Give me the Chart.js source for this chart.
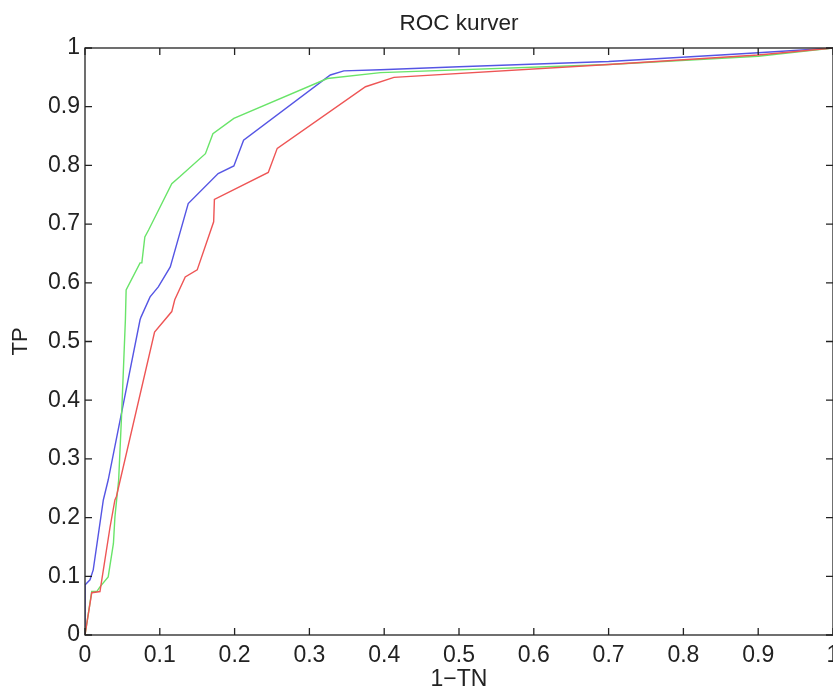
<!DOCTYPE html>
<html>
<head>
<meta charset="utf-8">
<script src="https://cdn.jsdelivr.net/npm/chart.js@4.4.1/dist/chart.umd.min.js"></script>
<style>
  html, body { margin: 0; padding: 0; background: #fff; }
  #wrap { width: 833px; height: 689px; }
</style>
</head>
<body>
<div id="wrap"><canvas id="roc"></canvas></div>
<script>
// ROC curves (x = 1-TN, y = TP)
var redX   = [0, 0.009, 0.02, 0.0335, 0.040, 0.042, 0.093, 0.116, 0.120, 0.134, 0.150, 0.172, 0.173, 0.245, 0.257, 0.375, 0.413, 0.7, 0.9, 1];
var redY   = [0, 0.072, 0.074, 0.184, 0.230, 0.236, 0.516, 0.551, 0.571, 0.610, 0.622, 0.704, 0.742, 0.788, 0.829, 0.934, 0.950, 0.972, 0.988, 1];

var greenX = [0, 0.009, 0.0157, 0.02, 0.031, 0.038, 0.040, 0.045, 0.049, 0.054, 0.055, 0.0736, 0.076, 0.080, 0.085, 0.116, 0.127, 0.161, 0.171, 0.199, 0.324, 0.395, 0.7, 0.9, 1];
var greenY = [0, 0.074, 0.074, 0.082, 0.099, 0.156, 0.201, 0.264, 0.377, 0.537, 0.588, 0.634, 0.634, 0.678, 0.690, 0.769, 0.781, 0.820, 0.854, 0.880, 0.948, 0.958, 0.972, 0.986, 1];

var blueX  = [0, 0, 0.0067, 0.011, 0.0245, 0.031, 0.0736, 0.075, 0.087, 0.098, 0.114, 0.138, 0.178, 0.199, 0.212, 0.328, 0.346, 0.395, 0.5, 0.7, 0.85, 0.9, 1];
var blueY  = [0, 0.085, 0.094, 0.111, 0.230, 0.264, 0.537, 0.542, 0.576, 0.593, 0.627, 0.735, 0.786, 0.799, 0.843, 0.954, 0.961, 0.963, 0.968, 0.977, 0.988, 0.992, 1];

var xTickLabels = ['0', '0.1', '0.2', '0.3', '0.4', '0.5', '0.6', '0.7', '0.8', '0.9', '1'];
var yTickLabels = ['0', '0.1', '0.2', '0.3', '0.4', '0.5', '0.6', '0.7', '0.8', '0.9', '1'];

function pts(xs, ys) {
  return xs.map(function (x, i) { return { x: x, y: ys[i] }; });
}

var font = 'Liberation Sans, Arial, Helvetica, sans-serif';
var ink = '#222';

function line(label, color, xs, ys) {
  return {
    label: label,
    data: pts(xs, ys),
    showLine: true,
    borderColor: color,
    borderWidth: 1.4,
    pointRadius: 0,
    tension: 0,
    fill: false
  };
}

var chart_roc = new Chart(document.getElementById('roc'), {
    type: 'scatter',
    data: {
        datasets: [
            line('red', 'rgb(238,85,85)', redX, redY),
            line('green', 'rgb(105,228,105)', greenX, greenY),
            line('blue', 'rgb(85,85,228)', blueX, blueY)
        ]
    },
    options: {
        animation: false,
        responsive: true,
        maintainAspectRatio: false,
        layout: { padding: 0 },
        plugins: {
            legend: { display: false },
            tooltip: { enabled: false },
            title: {
                display: true,
                fullSize: false,
                text: 'ROC kurver',
                color: ink,
                font: { family: font, size: 22.5, weight: 'normal', lineHeight: 1.2 },
                padding: { top: 10, bottom: 11 }
            }
        },
        scales: {
            x: {
                type: 'linear',
                min: 0,
                max: 1,
                grid: { display: false, drawTicks: false },
                border: { display: false },
                ticks: {
                    stepSize: 0.1,
                    color: ink,
                    padding: 7,
                    maxRotation: 0,
                    font: { family: font, size: 23 },
                    callback: function (v, i) { return xTickLabels[i]; }
                },
                title: {
                    display: true,
                    text: '1\u2212TN',
                    color: ink,
                    font: { family: font, size: 23, lineHeight: 0.8 },
                    padding: 0
                },
                afterFit: function (s) { s.height = 54; s.paddingLeft = 0; s.paddingRight = 0; }
            },
            y: {
                type: 'linear',
                min: 0,
                max: 1,
                grid: { display: false, drawTicks: false },
                border: { display: false },
                ticks: {
                    stepSize: 0.1,
                    color: ink,
                    padding: 5,
                    font: { family: font, size: 23 },
                    callback: function (v, i) { return yTickLabels[i]; }
                },
                title: {
                    display: true,
                    text: 'TP',
                    color: ink,
                    font: { family: font, size: 22, lineHeight: 1.2 },
                    padding: 8
                },
                afterFit: function (s) { s.width = 85; s.paddingTop = 0; s.paddingBottom = 0; }
            }
        }
    },
    plugins: [{
        id: 'matlabBox',
        beforeDraw: function (chart) {
            var ctx = chart.canvas.getContext('2d');
            ctx.save();
            ctx.globalCompositeOperation = 'destination-over';
            ctx.fillStyle = 'white';
            ctx.fillRect(0, 0, chart.canvas.width, chart.canvas.height);
            ctx.restore();
        },
        afterDraw: function (chart) {
            var ctx = chart.ctx;
            var a = chart.chartArea;
            var sx = chart.scales.x, sy = chart.scales.y;
            var len = 7;
            ctx.save();
            ctx.strokeStyle = ink;
            ctx.lineWidth = 1.3;
            ctx.strokeRect(a.left, a.top, a.right - a.left, a.bottom - a.top);
            ctx.beginPath();
            sx.ticks.forEach(function (t) {
                var px = sx.getPixelForValue(t.value);
                ctx.moveTo(px, a.bottom); ctx.lineTo(px, a.bottom - len);
                ctx.moveTo(px, a.top); ctx.lineTo(px, a.top + len);
            });
            sy.ticks.forEach(function (t) {
                var py = sy.getPixelForValue(t.value);
                ctx.moveTo(a.left, py); ctx.lineTo(a.left + len, py);
                ctx.moveTo(a.right, py); ctx.lineTo(a.right - len, py);
            });
            ctx.stroke();
            ctx.restore();
        }
    }]
});
</script>
</body>
</html>
